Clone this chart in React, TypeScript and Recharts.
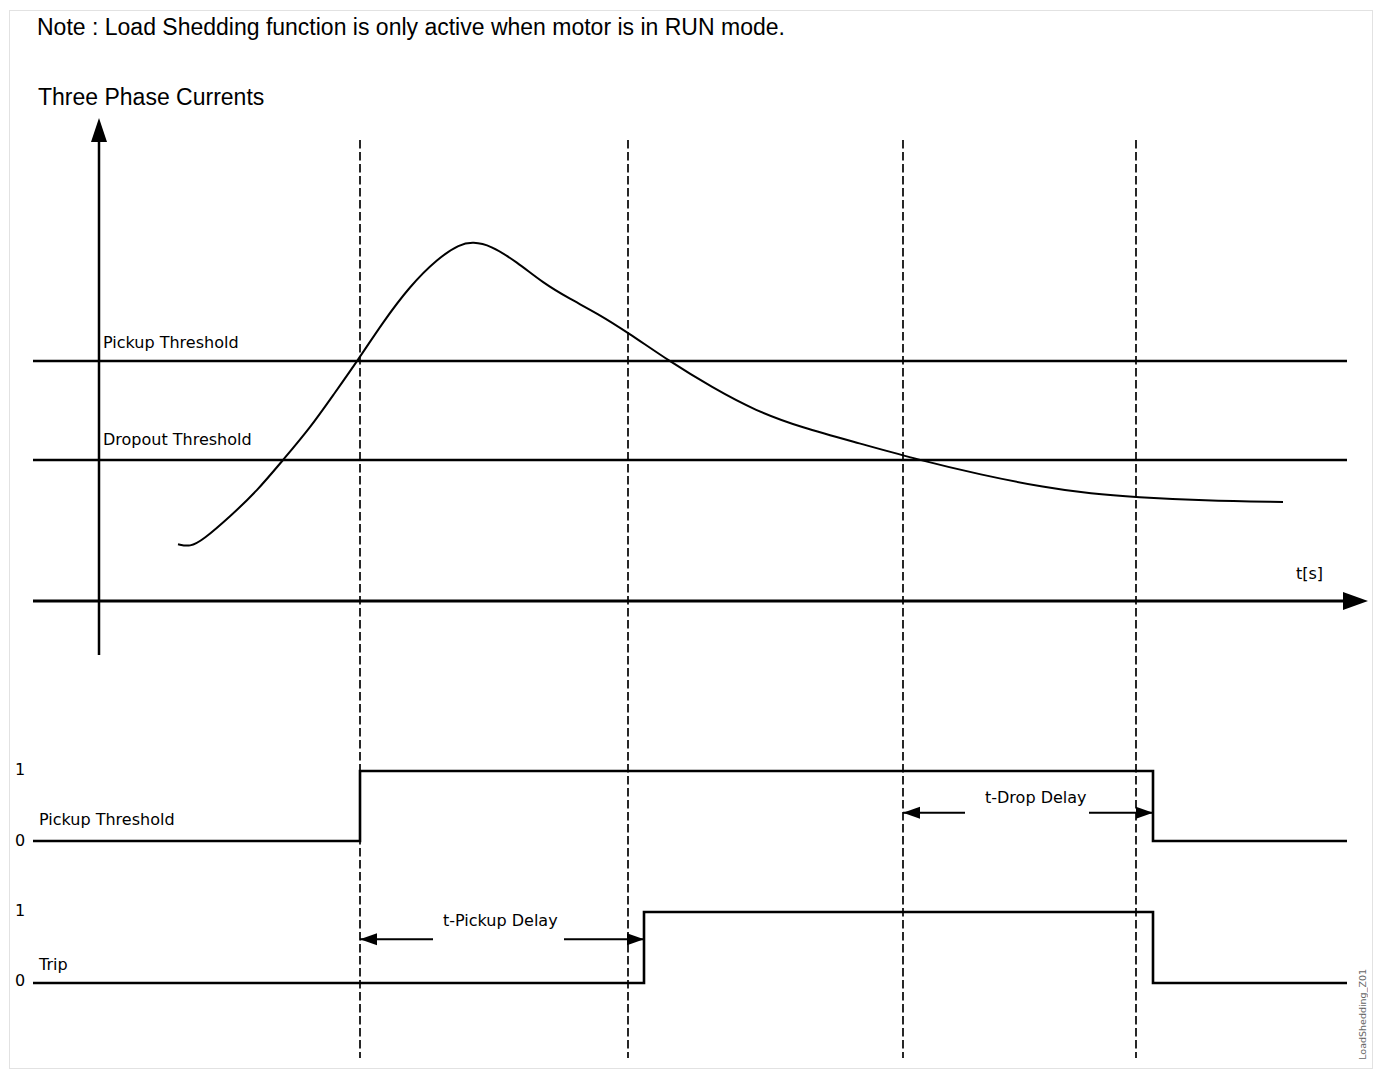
import React from 'react';
import { ComposedChart, Line, XAxis, YAxis, ReferenceLine, ReferenceDot } from 'recharts';

// time axis (arbitrary units, 0 = current axis)
const CURVE_T = [7.9, 9.1, 10.4, 13.1, 15.8, 18.4, 21.1, 23.4, 25.9, 28.4, 31.1, 33.8, 36.1, 37.4, 39.1, 41.8, 44.4, 47.1, 49.8, 52.9, 57.0, 61.3, 65.7, 70.2, 76.0, 82.0, 88.1, 94.7, 99.2, 103.7, 110.4, 118.4];
const CURVE_I = [28.4, 27.0, 30.5, 42.2, 55.0, 70.5, 86.5, 102.8, 120.5, 139.5, 157.5, 171.0, 178.5, 179.5, 178.0, 169.5, 159.0, 151.0, 143.9, 134.2, 120, 106.8, 95.0, 86.8, 78.9, 70.5, 63.2, 56.6, 53.6, 51.9, 50.2, 49.5];

const THRESHOLD_NAMES = ['Pickup Threshold', 'Dropout Threshold'];
const THRESHOLD_LEVELS = [120, 70.5];

// dashed event markers
const EVENT_T = [26.1, 52.9, 80.4, 103.7];

const PICKUP_T = [-6.6, 26.1, 105.4, 124.8];
const PICKUP_V = [0, 1, 0, 0];
const TRIP_T = [-6.6, 54.5, 105.4, 124.8];
const TRIP_V = [0, 1, 0, 0];

const T_START = -6.6;
const T_END = 124.8;

const curveData = CURVE_T.map((t, i) => ({ t, v: CURVE_I[i] }));
const pickupData = PICKUP_T.map((t, i) => ({ t, v: PICKUP_V[i] }));
const tripData = TRIP_T.map((t, i) => ({ t, v: TRIP_V[i] }));

const head = (dir: 'left' | 'right' | 'up', len: number, half: number) => (p: any) => {
  const { cx, cy } = p;
  let pts = '';
  if (dir === 'right') pts = `${cx},${cy} ${cx - len},${cy - half} ${cx - len},${cy + half}`;
  if (dir === 'left') pts = `${cx},${cy} ${cx + len},${cy - half} ${cx + len},${cy + half}`;
  if (dir === 'up') pts = `${cx},${cy} ${cx - half},${cy + len} ${cx + half},${cy + len}`;
  return <polygon points={pts} fill="#000" />;
};

const DELAYS = [
  { axis: 'T', level: 0.615, from: 26.1, to: 54.5, gapA: 33.4, gapB: 46.5 },
  { axis: 'P', level: 0.404, from: 80.4, to: 105.4, gapA: 86.6, gapB: 99.0 },
];

const sans = "'DejaVu Sans', sans-serif";
const arial = "'Liberation Sans', Arial, sans-serif";

function Txt({ x, y, size = 16, font = sans, children }: any) {
  return (
    <div style={{ position: 'absolute', left: x, top: y, fontSize: size, lineHeight: `${size}px`, fontFamily: font, color: '#000', whiteSpace: 'nowrap' }}>
      {children}
    </div>
  );
}

export default function App() {
  return (
    <div style={{ position: 'absolute', left: 0, top: 0, width: 1377, height: 1072, background: '#fff' }}>
      <div style={{ position: 'absolute', left: 9, top: 10, width: 1364, height: 1059, border: '1px solid #e2e2e2', boxSizing: 'border-box' }} />
      <ComposedChart width={1377} height={1072} margin={{ top: 0, right: 0, bottom: 0, left: 0 }} style={{ position: 'absolute', left: 0, top: 0 }}>
        <XAxis dataKey="t" type="number" domain={[-9.9, 127.8]} allowDataOverflow hide />
        <YAxis yAxisId="I" type="number" domain={[-235.5, 300.5]} allowDataOverflow hide />
        <YAxis yAxisId="P" type="number" domain={[-3.3, 12.014]} allowDataOverflow hide />
        <YAxis yAxisId="T" type="number" domain={[-1.254, 13.845]} allowDataOverflow hide />

        {EVENT_T.map((t) => (
          <ReferenceLine key={t} yAxisId="I" segment={[{ x: t, y: 230.5 }, { x: t, y: -228.5 }]} stroke="#111" strokeWidth={1.8} strokeDasharray="8.5 3.5" />
        ))}

        {THRESHOLD_LEVELS.map((lv) => (
          <ReferenceLine key={lv} yAxisId="I" segment={[{ x: T_START, y: lv }, { x: T_END, y: lv }]} stroke="#000" strokeWidth={2.3} />
        ))}

        <ReferenceLine yAxisId="I" segment={[{ x: T_START, y: 0 }, { x: 124.5, y: 0 }]} stroke="#000" strokeWidth={3} />
        <ReferenceDot yAxisId="I" x={126.9} y={0} ifOverflow="visible" shape={head('right', 25, 9)} />
        <ReferenceLine yAxisId="I" segment={[{ x: 0, y: -27 }, { x: 0, y: 235 }]} stroke="#000" strokeWidth={2.5} />
        <ReferenceDot yAxisId="I" x={0} y={241.5} ifOverflow="visible" shape={head('up', 24, 8)} />

        <Line data={curveData} yAxisId="I" dataKey="v" type="basis" stroke="#000" strokeWidth={2} dot={false} activeDot={false} isAnimationActive={false} />
        <Line data={pickupData} yAxisId="P" dataKey="v" type="stepAfter" stroke="#000" strokeWidth={2.6} strokeLinecap="butt" dot={false} activeDot={false} isAnimationActive={false} />
        <Line data={tripData} yAxisId="T" dataKey="v" type="stepAfter" stroke="#000" strokeWidth={2.6} strokeLinecap="butt" dot={false} activeDot={false} isAnimationActive={false} />

        {DELAYS.map((d) => [
          <ReferenceLine key={`a${d.from}`} yAxisId={d.axis} segment={[{ x: d.from, y: d.level }, { x: d.gapA, y: d.level }]} stroke="#000" strokeWidth={2} />,
          <ReferenceLine key={`b${d.from}`} yAxisId={d.axis} segment={[{ x: d.gapB, y: d.level }, { x: d.to, y: d.level }]} stroke="#000" strokeWidth={2} />,
          <ReferenceDot key={`c${d.from}`} yAxisId={d.axis} x={d.from} y={d.level} ifOverflow="visible" shape={head('left', 17, 6)} />,
          <ReferenceDot key={`e${d.from}`} yAxisId={d.axis} x={d.to} y={d.level} ifOverflow="visible" shape={head('right', 17, 6)} />,
        ])}
      </ComposedChart>

      <Txt x={37} y={15.5} size={23} font={arial}>Note : Load Shedding function is only active when motor is in RUN mode.</Txt>
      <Txt x={38} y={86} size={23} font={arial}>Three Phase Currents</Txt>
      <Txt x={103} y={334.5}>{THRESHOLD_NAMES[0]}</Txt>
      <Txt x={103} y={431.5}>{THRESHOLD_NAMES[1]}</Txt>
      <Txt x={1296} y={565.5}>t[s]</Txt>

      <Txt x={15} y={761.5}>1</Txt>
      <Txt x={15} y={832.5}>0</Txt>
      <Txt x={39} y={812}>Pickup Threshold</Txt>
      <Txt x={15} y={903}>1</Txt>
      <Txt x={15} y={973}>0</Txt>
      <Txt x={39} y={956.5}>Trip</Txt>

      <Txt x={443} y={913}>t-Pickup Delay</Txt>
      <Txt x={985} y={790}>t-Drop Delay</Txt>

      <div style={{ position: 'absolute', left: 1357, top: 969, fontSize: 9.5, lineHeight: '12px', fontFamily: sans, color: '#666', writingMode: 'vertical-rl', transform: 'rotate(180deg)', whiteSpace: 'nowrap' }}>
        LoadShedding_Z01
      </div>
    </div>
  );
}
